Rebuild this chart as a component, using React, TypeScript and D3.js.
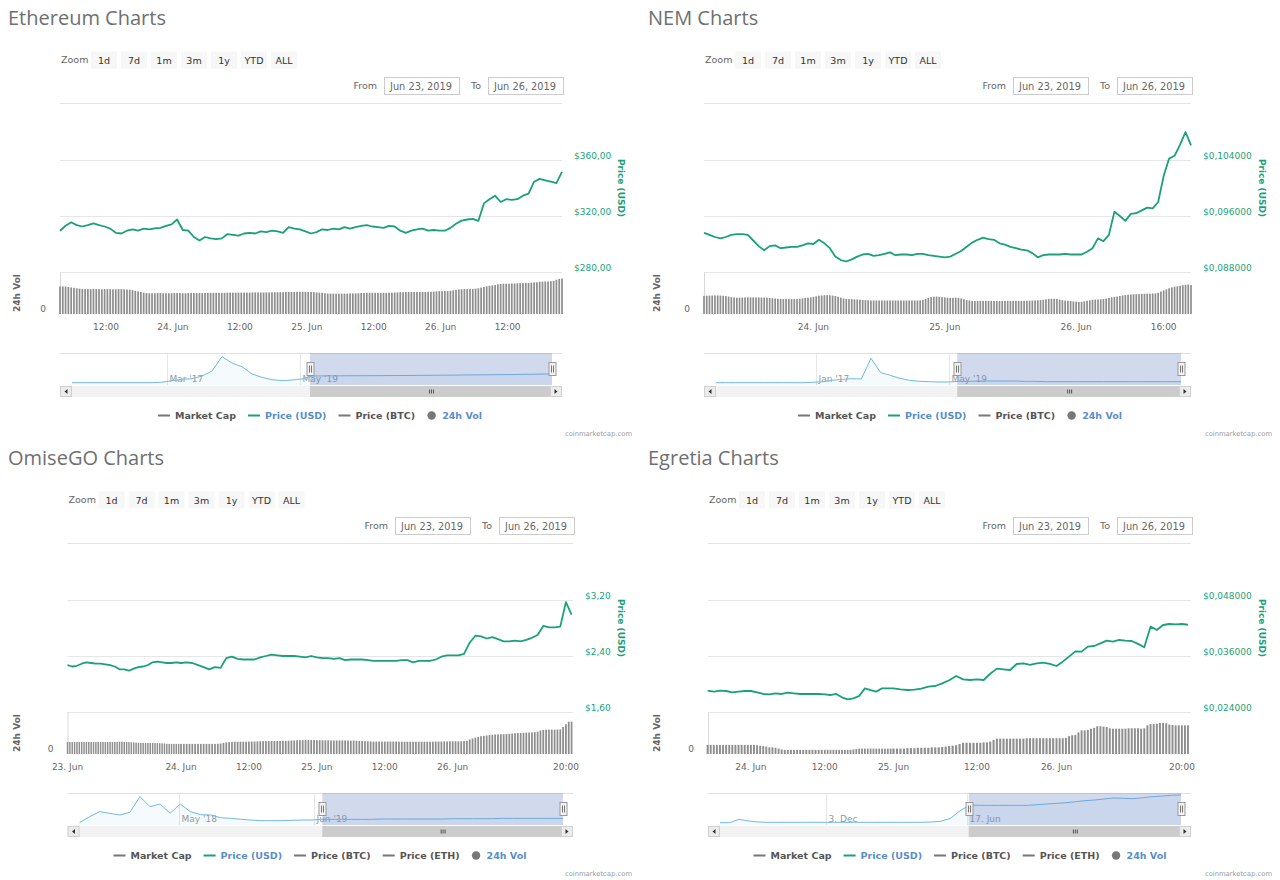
import React, { useEffect, useRef } from 'react';
import * as d3 from 'd3';

const t = (day: number, hour: number, min = 0) => new Date(Date.UTC(2019, 5, day, hour, min));
const HOUR = 3600 * 1000;
const HALF_HOUR = 1800 * 1000;

// ---------- Ethereum ----------
const ethPrice = [
  309.5, 313, 315.5, 313.5, 312.5, 313.5, 314.8, 313.5, 312.5, 311,
  308, 307.5, 309.5, 310.5, 309.5, 311, 310.5, 311.2, 311.5, 313,
  314, 317.5, 310, 309.5, 305, 302.5, 305, 304, 303.5, 304,
  307, 306.5, 306, 307.5, 308, 307.5, 309, 308.5, 309.5, 309,
  308, 312, 311, 310.5, 309, 307.5, 308.5, 310.5, 310, 311,
  310.5, 312, 311, 312, 313, 313.5, 312.5, 312, 311.5, 313,
  312.5, 309.5, 308, 309.5, 310.5, 311, 309.5, 310, 309.5, 309.5,
  311.5, 314.5, 316.7, 317.5, 318, 316.5, 329, 332, 334.5, 330,
  332, 331.5, 332, 334.5, 336, 344.5, 346.5, 345.5, 344.5, 343.5,
  351.5,
];
const ethVolume = [
  13.3, 13.3, 13.2, 13.0, 12.8, 12.6, 12.4,
  12.2, 12.1, 12.0, 12.0, 12.0, 12.1, 12.0, 12.0, 11.9, 12.0, 12.0, 12.0, 11.9, 11.9, 12.0, 12.0, 11.9, 11.8, 11.7,
  11.5, 11.2, 10.9, 10.6, 10.3,
  10.1, 10.0, 10.0, 10.0, 10.1, 10.1, 10.0, 10.0, 10.0, 10.0, 10.1, 10.1, 10.1, 10.0, 10.0, 10.1, 10.1, 10.1, 10.1, 10.1,
  10.1, 10.1, 10.2, 10.2, 10.2, 10.2, 10.2, 10.2, 10.2, 10.3, 10.3, 10.3, 10.3, 10.3, 10.3, 10.3, 10.3, 10.3, 10.4, 10.4,
  10.4, 10.4, 10.4, 10.4, 10.4, 10.5, 10.5, 10.5, 10.5, 10.5,
  10.6, 10.6, 10.6, 10.6, 10.7, 10.7, 10.7, 10.7, 10.6, 10.6, 10.5, 10.4, 10.3, 10.2, 10.0, 9.9, 9.8,
  9.8, 9.8, 9.8, 9.8, 9.8, 9.8, 9.9, 9.9, 9.9, 10.0, 10.1, 10.1,
  10.2, 10.2, 10.2, 10.2, 10.2, 10.2, 10.2, 10.2, 10.3, 10.3, 10.4, 10.4, 10.5,
  10.5, 10.6, 10.6, 10.6, 10.6, 10.6, 10.6, 10.6, 10.6, 10.7, 10.7, 10.8, 10.9,
  11.0, 11.0, 11.1, 11.1, 11.2, 11.4, 11.6,
  11.8, 11.9, 12.0, 12.0, 12.1, 12.1, 12.2, 12.4, 12.7, 13.0,
  13.3, 13.6, 13.8, 14.0, 14.3,
  14.5, 14.6, 14.6, 14.6, 14.7, 14.7, 14.8,
  14.9, 14.9, 15.0, 15.0, 15.1, 15.2, 15.3,
  15.5, 15.6, 15.7, 15.7, 15.8, 16.0,
  16.5, 16.9, 17.1,
];
const ethNav = [
  15, 15, 15, 15, 15, 15, 15, 15, 15, 40, 118, 186, 220, 355, 610, 1340, 1010, 828, 456, 287,
  169, 118, 152, 203, 355, 360, 362, 365, 368, 370, 372, 375, 378, 380, 384, 388, 392, 396, 400, 405,
  410, 415, 420, 425, 430, 438, 445, 452, 460,
];
const ethPriceTicks = [280, 320, 360];
const ethXTicks: [Date, string][] = [
  [t(23, 12), '12:00'], [t(24, 0), '24. Jun'], [t(24, 12), '12:00'], [t(25, 0), '25. Jun'],
  [t(25, 12), '12:00'], [t(26, 0), '26. Jun'], [t(26, 12), '12:00'],
];
const ethNavTicks: [number, string][] = [[9.5, "Mar '17"], [22.8, "May '19"]];

// ---------- NEM ----------
const nemPrice = [
  0.0936, 0.0933, 0.0930, 0.0928, 0.0930, 0.0933, 0.0934, 0.0934, 0.0933, 0.0925,
  0.0917, 0.0911, 0.0917, 0.0918, 0.0914, 0.0915, 0.0916, 0.0916, 0.0918, 0.0921,
  0.0920, 0.0926, 0.0921, 0.0914, 0.0902, 0.0897, 0.0895, 0.0898, 0.0902, 0.0905,
  0.0906, 0.0903, 0.0904, 0.0906, 0.0908, 0.0904, 0.0905, 0.0905, 0.0904, 0.0906,
  0.0906, 0.0904, 0.0903, 0.0902, 0.0901, 0.0902, 0.0906, 0.0910, 0.0916, 0.0922,
  0.0926, 0.0929, 0.0927, 0.0926, 0.0921, 0.0919, 0.0916, 0.0914, 0.0912, 0.0911,
  0.0907, 0.0901, 0.0904, 0.0905, 0.0905, 0.0905, 0.0906, 0.0905, 0.0905, 0.0905,
  0.0909, 0.0914, 0.0928, 0.0924, 0.0933, 0.0966, 0.0960, 0.0953, 0.0963, 0.0964,
  0.0968, 0.0972, 0.0971, 0.0980, 0.1017, 0.1042, 0.1046, 0.1062, 0.1080, 0.1061,
];
const nemVolume = [
  13.1, 13.2, 13.3, 13.3, 13.4, 13.4, 13.3, 13.2, 13.0, 12.6,
  12.2, 11.9, 11.8, 11.8,
  11.9, 12.0, 12.0, 12.0, 12.0, 12.0, 12.0, 11.9, 11.9, 11.8, 11.6, 11.4, 11.2,
  11.0, 10.9, 10.8, 10.8, 10.8, 10.8, 10.8, 10.9, 11.0, 11.3, 11.6,
  11.8, 12.0, 12.4, 12.8, 13.2, 13.4, 13.6,
  13.6, 13.5, 13.3, 13.0, 12.5, 11.8, 11.2,
  10.9, 10.8, 10.7, 10.6, 10.5, 10.3, 10.1, 10.0,
  9.9, 9.8, 9.8, 9.8, 9.8, 9.8, 9.8, 9.8, 9.8, 9.8, 9.8, 9.8, 9.8, 9.8, 9.8, 9.8, 9.8, 9.8, 9.8, 9.9, 10.2, 10.8, 11.6,
  12.2, 12.5, 12.6, 12.4, 12.2, 12.0, 11.8,
  11.6, 11.7, 11.8, 11.6, 11.2, 10.6, 10.1, 9.8,
  9.5, 9.4, 9.4, 9.5, 9.5, 9.5, 9.5, 9.5, 9.4, 9.4, 9.4, 9.4, 9.5, 9.5, 9.5, 9.5, 9.5, 9.5, 9.5, 9.5,
  9.6, 9.6, 9.7, 9.8, 9.9, 10.0, 10.3, 10.6,
  10.9, 11.0, 11.0, 10.8, 10.4, 10.0,
  9.7, 9.6, 9.4, 9.1, 8.9, 8.7, 8.8, 9.2,
  9.6, 9.9, 10.2, 10.4, 10.5, 10.6, 10.8, 11.2, 11.6,
  12.0, 12.3, 12.6, 13.0,
  13.4, 13.7, 13.9, 14.1, 14.2, 14.3, 14.4, 14.5, 14.6, 14.7, 14.7, 14.8, 14.9, 15.3,
  16.2, 17.1, 17.8, 18.6, 19.2, 19.7, 20.0,
  20.4, 20.8, 21.1, 21.3, 21.0,
];
const nemNav = [
  0.023, 0.023, 0.023, 0.023, 0.023, 0.023, 0.023, 0.023, 0.023, 0.023,
  0.046, 0.092, 0.185, 0.254, 0.3, 0.277, 1.71, 0.72, 0.53, 0.32,
  0.185, 0.115, 0.092, 0.069, 0.069, 0.115, 0.115, 0.139, 0.139, 0.139,
  0.139, 0.139, 0.115, 0.115, 0.092, 0.092, 0.092, 0.092, 0.092, 0.092,
  0.092, 0.092, 0.092, 0.092, 0.092, 0.092, 0.092, 0.092, 0.092,
];
const nemPriceTicks = [0.088, 0.096, 0.104];
const nemXTicks: [Date, string][] = [
  [t(24, 0), '24. Jun'], [t(25, 0), '25. Jun'], [t(26, 0), '26. Jun'], [t(26, 16), '16:00'],
];
const nemNavTicks: [number, string][] = [[10.3, "Jan '17"], [24.1, "May '19"]];

// ---------- OmiseGO ----------
const omgPrice = [
  2.27, 2.25, 2.26, 2.29, 2.31, 2.30, 2.29, 2.29, 2.28, 2.27,
  2.25, 2.21, 2.21, 2.19, 2.22, 2.24, 2.25, 2.27, 2.31, 2.32,
  2.31, 2.30, 2.30, 2.31, 2.30, 2.31, 2.30, 2.27, 2.24, 2.21,
  2.24, 2.23, 2.37, 2.39, 2.36, 2.35, 2.35, 2.35, 2.38, 2.40,
  2.42, 2.41, 2.40, 2.40, 2.40, 2.39, 2.38, 2.40, 2.38, 2.37,
  2.37, 2.36, 2.37, 2.34, 2.35, 2.35, 2.35, 2.34, 2.33, 2.33,
  2.33, 2.33, 2.33, 2.34, 2.34, 2.31, 2.33, 2.33, 2.33, 2.35,
  2.39, 2.41, 2.41, 2.41, 2.43, 2.59, 2.69, 2.68, 2.65, 2.67,
  2.64, 2.61, 2.61, 2.62, 2.61, 2.63, 2.66, 2.70, 2.83, 2.81,
  2.81, 2.82, 3.17, 2.99,
];
const omgVolume = [
  87, 87, 87, 87, 87, 87, 87, 87, 87, 87, 87, 87, 87, 87, 87, 87, 87, 87, 87, 87,
  88, 88, 89, 89, 88, 87, 86, 85, 84,
  82, 81, 80, 80, 80, 80, 80, 80, 79, 79, 78, 77, 76,
  74, 73, 73, 73, 73, 73, 73, 73, 73, 73, 73, 73, 73, 73, 73, 73, 73, 73, 73, 74, 76, 80,
  84, 86, 88, 89, 89, 89, 89, 89, 90, 90, 90, 91, 92,
  93, 93, 94, 94, 94, 94, 94, 95, 95, 96, 97, 98, 99,
  100, 100, 101, 101, 101, 101, 100, 100, 99,
  99, 99, 98, 98, 98, 98, 98, 98, 98, 97, 97, 96, 95, 94, 93,
  92, 91, 90, 90, 90, 90, 90, 90, 90, 90, 90, 89, 89, 89, 89, 89, 89, 89, 89, 89, 89, 89, 89, 89, 90, 90, 90, 91,
  91, 92, 92, 92, 92, 92, 93, 95,
  105, 112, 118, 124, 129, 131,
  134, 137, 139, 141, 142, 143, 143, 144, 146,
  148, 150, 151, 152, 153, 154, 155, 156, 158, 162,
  170, 174, 175, 176, 176, 176, 177, 178,
  195, 215, 234, 234,
];
const omgNav = [
  0.31, 5.86, 10.5, 8.95, 7.41, 9.88, 24.4, 15.1, 17.6, 8.95,
  17.6, 10.5, 7.72, 7.41, 4.94, 4.32, 3.4, 2.78, 2.16, 2.16,
  2.16, 2.47, 2.78, 2.78, 3.4, 3.4, 3.4, 3.4, 3.4, 3.4,
  3.7, 3.7, 3.7, 3.7, 3.7, 3.7, 3.7, 4.0, 4.0, 4.0,
  4.0, 4.0, 4.3, 4.3, 4.3, 4.3, 4.3, 4.3, 4.3,
];
const omgPriceTicks = [1.6, 2.4, 3.2];
const omgXTicks: [Date, string][] = [
  [t(23, 0), '23. Jun'], [t(24, 0), '24. Jun'], [t(24, 12), '12:00'], [t(25, 0), '25. Jun'],
  [t(25, 12), '12:00'], [t(26, 0), '26. Jun'], [t(26, 20), '20:00'],
];
const omgNavTicks: [number, string][] = [[9.83, "May '18"], [23.3, "Jun '19"]];

// ---------- Egretia ----------
const egrPrice = [
  0.02857, 0.02836, 0.02857, 0.02850, 0.02821, 0.02836, 0.02850, 0.02850, 0.02821, 0.02786,
  0.02779, 0.02800, 0.02786, 0.02814, 0.02800, 0.02786, 0.02786, 0.02786, 0.02786, 0.02779,
  0.02764, 0.02786, 0.02714, 0.02671, 0.02693, 0.02743, 0.02907, 0.02871, 0.02836, 0.02907,
  0.02907, 0.02907, 0.02886, 0.02871, 0.02880, 0.02900, 0.02943, 0.02957, 0.03014, 0.03080,
  0.03171, 0.03100, 0.03086, 0.03100, 0.03086, 0.03220, 0.03330, 0.03314, 0.03300, 0.03429,
  0.03443, 0.03410, 0.03440, 0.03457, 0.03430, 0.03386, 0.03479, 0.03586, 0.03700, 0.03693,
  0.03800, 0.03814, 0.03871, 0.03929, 0.03907, 0.03943, 0.03930, 0.03921, 0.03860, 0.03786,
  0.04229, 0.04157, 0.04264, 0.04286, 0.04279, 0.04286, 0.04270,
];
const egrVolume = [
  2.2, 2.2, 2.2, 2.2, 2.2, 2.2, 2.2, 2.2, 2.2, 2.2, 2.2, 2.2, 2.2, 2.2, 2.2, 2.2, 2.1, 2.0, 1.9, 1.8,
  1.6, 1.6, 1.5, 1.3, 1.1,
  1.0, 1.0, 1.0, 1.0, 1.0, 1.0, 1.0, 1.0, 1.0, 1.0, 1.0, 1.0, 1.0, 1.0, 1.0, 1.0, 1.0, 1.0, 1.0, 1.0,
  1.0, 1.0, 1.0, 1.1, 1.2, 1.3, 1.3,
  1.3, 1.3, 1.3, 1.3, 1.3, 1.3, 1.3, 1.3, 1.3, 1.3, 1.3, 1.3, 1.3, 1.3, 1.4, 1.4, 1.4, 1.5, 1.5, 1.5, 1.5, 1.6,
  1.6, 1.6, 1.7, 1.8,
  1.9, 2.0, 2.1, 2.4,
  2.7, 2.7, 2.7, 2.7, 2.7, 2.7, 2.8, 2.8, 3.0,
  3.4, 3.7, 3.7, 3.7, 3.7, 3.7, 3.7, 3.7, 3.7, 3.7, 3.8, 3.8, 3.8, 3.8, 3.8, 3.8, 3.8, 3.8, 3.8, 3.8, 3.8, 3.8, 3.9,
  4.3, 4.5, 4.6,
  5.2, 5.7, 5.7, 5.8,
  6.1, 6.3,
  6.7, 6.7, 6.6, 6.5,
  6.2, 6.1, 6.1, 6.1, 6.1,
  6.1, 6.2, 6.2, 6.2, 6.2, 6.1, 6.2,
  6.9, 7.2, 7.2, 7.3,
  7.5, 7.5, 7.4,
  7.1, 7.0,
  6.9, 6.9, 6.9, 6.9, 6.9,
];
const egrNav = [
  0.00053, 0.00053, 0.0059, 0.0032, 0.0016, 0.0011, 0.0011, 0.0011, 0.0011, 0.0011,
  0.0011, 0.0011, 0.0011, 0.0011, 0.0011, 0.0011, 0.0011, 0.0011, 0.0011, 0.0011,
  0.0011, 0.0011, 0.0016, 0.0027, 0.0075, 0.0197, 0.0288, 0.0283, 0.0283, 0.0283,
  0.0283, 0.0283, 0.0283, 0.0293, 0.0304, 0.0315, 0.0325, 0.0341, 0.0357, 0.0368,
  0.0384, 0.04, 0.0395, 0.0389, 0.0405, 0.0421, 0.0432, 0.0443, 0.0448,
];
const egrPriceTicks = [0.024, 0.036, 0.048];
const egrXTicks: [Date, string][] = [
  [t(24, 0), '24. Jun'], [t(24, 12), '12:00'], [t(25, 0), '25. Jun'],
  [t(25, 12), '12:00'], [t(26, 0), '26. Jun'], [t(26, 20), '20:00'],
];
const egrNavTicks: [number, string][] = [[11.0, '3. Dec'], [25.7, '17. Jun']];

const ZOOM_BUTTONS = ['1d', '7d', '1m', '3m', '1y', 'YTD', 'ALL'];
const RANGE_DATES = ['Jun 23, 2019', 'Jun 26, 2019'];
const LEGEND_BTC = ['Market Cap', 'Price (USD)', 'Price (BTC)', '24h Vol'];
const LEGEND_ETH = ['Market Cap', 'Price (USD)', 'Price (BTC)', 'Price (ETH)', '24h Vol'];

const FONT = "'DejaVu Sans', Verdana, sans-serif";
const GREEN = '#1aa179';
const BLUE_TEXT = '#5a8ecb';

interface Panel {
  title: string;
  px: number;
  py: number;
  left: number;
  right: number;
  xDomain: Date[];
  xRange: number[];
  start: Date;
  price: number[];
  volume: number[];
  volMax: number;
  priceTicks: number[];
  decimals: number;
  xTicks: [Date, string][];
  nav: number[];
  navMax: number;
  navTicks: [number, string][];
  navSel: number;
  legend: string[];
}

const panels: Panel[] = [
  {
    title: 'Ethereum Charts', px: 0, py: 0, left: 60, right: 562,
    xDomain: [t(23, 3, 45), t(26, 21, 45)], xRange: [60, 562], start: t(23, 3, 45),
    price: ethPrice, volume: ethVolume, volMax: 20, priceTicks: ethPriceTicks, decimals: 2,
    xTicks: ethXTicks, nav: ethNav, navMax: 1420, navTicks: ethNavTicks, navSel: 23.8, legend: LEGEND_BTC,
  },
  {
    title: 'NEM Charts', px: 640, py: 0, left: 704, right: 1191,
    xDomain: [t(23, 4), t(26, 21)], xRange: [704, 1191], start: t(23, 4),
    price: nemPrice, volume: nemVolume, volMax: 30, priceTicks: nemPriceTicks, decimals: 6,
    xTicks: nemXTicks, nav: nemNav, navMax: 1.94, navTicks: nemNavTicks, navSel: 24.9, legend: LEGEND_BTC,
  },
  {
    title: 'OmiseGO Charts', px: 0, py: 440, left: 67.5, right: 573,
    xDomain: [t(23, 0), t(24, 0), t(26, 21, 15)], xRange: [67.5, 181, 573], start: t(23, 0),
    price: omgPrice, volume: omgVolume, volMax: 300, priceTicks: omgPriceTicks, decimals: 2,
    xTicks: omgXTicks, nav: omgNav, navMax: 25.9, navTicks: omgNavTicks, navSel: 24.1, legend: LEGEND_ETH,
  },
  {
    title: 'Egretia Charts', px: 640, py: 440, left: 708, right: 1191,
    xDomain: [t(23, 17), t(24, 0), t(24, 12), t(25, 0), t(25, 12), t(26, 0), t(26, 20), t(26, 21, 30)],
    xRange: [707.6, 750.9, 824.8, 893.5, 977, 1056.5, 1181.9, 1191], start: t(23, 17),
    price: egrPrice, volume: egrVolume, volMax: 10, priceTicks: egrPriceTicks, decimals: 6,
    xTicks: egrXTicks, nav: egrNav, navMax: 0.0448, navTicks: egrNavTicks, navSel: 25.9, legend: LEGEND_ETH,
  },
];

type G = d3.Selection<SVGGElement, unknown, null, undefined>;

function drawPanel(svg: d3.Selection<SVGSVGElement, unknown, null, undefined>, p: Panel) {
  const g: G = svg.append('g');
  const T = p.py;
  const addText = (
    parent: G, x: number, y: number, s: string, size: number, fill: string,
    anchor = 'start', weight = 'normal',
  ) =>
    parent.append('text').attr('x', x).attr('y', y).attr('font-family', FONT)
      .attr('font-size', size).attr('fill', fill).attr('text-anchor', anchor)
      .attr('font-weight', weight).text(s);

  // Title
  g.append('text').attr('x', p.px + 8).attr('y', T + 25)
    .attr('font-family', "'Open Sans', sans-serif").attr('font-size', 20)
    .attr('fill', '#6f6f6f').text(p.title);

  // Range selector buttons
  addText(g, p.left + 1, T + 63, 'Zoom', 9.5, '#666');
  ZOOM_BUTTONS.forEach((b, i) => {
    const bx = p.left + 31 + i * 30;
    g.append('rect').attr('x', bx).attr('y', T + 51.5).attr('width', 26).attr('height', 17).attr('fill', '#f7f7f7');
    addText(g, bx + 13, T + 63.5, b, 9.5, '#333', 'middle');
  });

  // From / To inputs
  const boxes = [p.right - 178, p.right - 74];
  ['From', 'To'].forEach((lab, i) => {
    addText(g, boxes[i] - 7, T + 89, lab, 9.5, '#666', 'end');
    g.append('rect').attr('x', boxes[i] + 0.5).attr('y', T + 77.5).attr('width', 75).attr('height', 17)
      .attr('fill', '#fff').attr('stroke', '#ccc');
    addText(g, boxes[i] + 6, T + 89.5, RANGE_DATES[i], 9.8, '#666');
  });
  g.append('line').attr('x1', p.left).attr('x2', p.right).attr('y1', T + 103.5).attr('y2', T + 103.5)
    .attr('stroke', '#e3e3e3');

  // Scales
  const x = d3.scaleUtc().domain(p.xDomain).range(p.xRange);
  const y = d3.scaleLinear().domain([p.priceTicks[0], p.priceTicks[2]]).range([T + 272, T + 160]);
  const vy = d3.scaleLinear().domain([0, p.volMax]).range([T + 314, T + 272.5]);

  // Price grid + labels
  const fmt = (v: number) => '$' + v.toFixed(p.decimals).replace('.', ',');
  let maxW = 0;
  p.priceTicks.forEach((v) => {
    const yy = Math.round(y(v)) + 0.5;
    g.append('line').attr('x1', p.left).attr('x2', p.right).attr('y1', yy).attr('y2', yy).attr('stroke', '#e6e6e6');
    const tx = addText(g, p.right + 12, yy - 2, fmt(v), 9, GREEN);
    maxW = Math.max(maxW, (tx.node() as SVGTextElement).getComputedTextLength());
  });
  const titleX = p.right + 12 + maxW + 7;
  g.append('text').attr('transform', `translate(${titleX},${T + 188}) rotate(90)`)
    .attr('font-family', FONT).attr('font-size', 9).attr('font-weight', 'bold')
    .attr('fill', GREEN).attr('text-anchor', 'middle').text('Price (USD)');

  // Volume pane
  g.append('line').attr('x1', p.left + 0.5).attr('x2', p.left + 0.5).attr('y1', T + 272).attr('y2', T + 314)
    .attr('stroke', '#d9d9d9');
  g.append('text').attr('transform', `translate(${p.px + 20},${T + 293}) rotate(-90)`)
    .attr('font-family', FONT).attr('font-size', 9).attr('font-weight', 'bold')
    .attr('fill', '#666').attr('text-anchor', 'middle').text('24h Vol');
  addText(g, p.left - 14, T + 312, '0', 9, '#666', 'end');

  const volDates = p.volume.map((_, i) => new Date(p.start.getTime() + i * HALF_HOUR));
  g.append('g').selectAll('rect').data(p.volume).join('rect')
    .attr('x', (_, i) => {
      const w = (x(new Date(volDates[i].getTime() + HALF_HOUR)) - x(volDates[i])) * 0.62;
      return x(volDates[i]) - w / 2;
    })
    .attr('width', (_, i) => Math.max(1, (x(new Date(volDates[i].getTime() + HALF_HOUR)) - x(volDates[i])) * 0.62))
    .attr('y', (d) => vy(d))
    .attr('height', (d) => vy(0) - vy(d))
    .attr('fill', '#8e8e8e');

  // Price line
  const pts: [Date, number][] = p.price.map((v, i) => [new Date(p.start.getTime() + i * HOUR), v]);
  const line = d3.line<[Date, number]>().x((d) => x(d[0])).y((d) => y(d[1])).curve(d3.curveLinear);
  g.append('path').datum(pts).attr('d', line).attr('fill', 'none').attr('stroke', GREEN)
    .attr('stroke-width', 1.8).attr('stroke-linejoin', 'round');

  // X axis labels
  p.xTicks.forEach(([d, lab]) => {
    addText(g, x(d), T + 330, lab, 9, '#666', 'middle');
  });

  // Navigator
  const navTop = T + 353;
  const navBottom = T + 385;
  const nx = d3.scaleLinear().domain([0, p.nav.length - 1]).range([p.left + 12, p.right - 10]);
  const ny = d3.scaleLinear().domain([0, p.navMax]).range([T + 383, T + 355]);
  g.append('line').attr('x1', p.left).attr('x2', p.right).attr('y1', navTop + 0.5).attr('y2', navTop + 0.5)
    .attr('stroke', '#e0e0e0');
  p.navTicks.forEach(([idx, lab]) => {
    const xx = Math.round(nx(idx)) + 0.5;
    g.append('line').attr('x1', xx).attr('x2', xx).attr('y1', navTop).attr('y2', navBottom).attr('stroke', '#e6e6e6');
    addText(g, xx + 2, T + 382, lab, 9, '#999');
  });
  const area = d3.area<number>().x((_, i) => nx(i)).y0(navBottom).y1((d) => ny(d));
  const navLine = d3.line<number>().x((_, i) => nx(i)).y((d) => ny(d));
  g.append('path').datum(p.nav).attr('d', area).attr('fill', 'rgba(110,180,230,0.07)');
  g.append('path').datum(p.nav).attr('d', navLine).attr('fill', 'none').attr('stroke', '#72b8e6').attr('stroke-width', 1);

  const sx0 = nx(p.navSel);
  const sx1 = nx(p.nav.length - 1);
  g.append('rect').attr('x', sx0).attr('y', navTop).attr('width', sx1 - sx0).attr('height', navBottom - navTop)
    .attr('fill', 'rgba(102,133,194,0.3)');

  [sx0, sx1].forEach((hx) => {
    const xx = Math.round(hx) + 0.5;
    g.append('rect').attr('x', xx - 3.5).attr('y', T + 362.5).attr('width', 7).attr('height', 13)
      .attr('fill', '#f2f2f2').attr('stroke', '#999');
    [-1, 1].forEach((o) => {
      g.append('line').attr('x1', xx + o).attr('x2', xx + o).attr('y1', T + 365.5).attr('y2', T + 372.5)
        .attr('stroke', '#555').attr('stroke-width', 0.8);
    });
  });

  // Scrollbar
  const sbY = T + 386;
  g.append('rect').attr('x', p.left).attr('y', sbY).attr('width', p.right - p.left).attr('height', 11).attr('fill', '#f2f2f2');
  g.append('rect').attr('x', sx0).attr('y', sbY).attr('width', sx1 - sx0).attr('height', 11).attr('fill', '#cccccc');
  const gripX = (sx0 + sx1) / 2;
  [-2, 0, 2].forEach((o) => {
    g.append('line').attr('x1', gripX + o + 0.5).attr('x2', gripX + o + 0.5).attr('y1', sbY + 3.5).attr('y2', sbY + 7.5)
      .attr('stroke', '#333').attr('stroke-width', 0.8);
  });
  [p.left, p.right - 12].forEach((bx, i) => {
    g.append('rect').attr('x', bx + 0.5).attr('y', sbY + 0.5).attr('width', 11).attr('height', 10)
      .attr('fill', '#ebebeb').attr('stroke', '#d0d0d0');
    const cx = bx + 6;
    const cy = sbY + 5.5;
    const path = i === 0
      ? `M${cx + 1.5},${cy - 2.5} L${cx - 1.5},${cy} L${cx + 1.5},${cy + 2.5} Z`
      : `M${cx - 1.5},${cy - 2.5} L${cx + 1.5},${cy} L${cx - 1.5},${cy + 2.5} Z`;
    g.append('path').attr('d', path).attr('fill', '#333');
  });

  // Legend
  const lg: G = g.append('g');
  let lx = 0;
  p.legend.forEach((lab) => {
    const active = lab === 'Price (USD)' || lab === '24h Vol';
    const isVol = lab === '24h Vol';
    if (isVol) {
      lg.append('circle').attr('cx', lx + 4.5).attr('cy', -3.5).attr('r', 4.2).attr('fill', '#777');
    } else {
      lg.append('line').attr('x1', lx).attr('x2', lx + 12).attr('y1', -3.5).attr('y2', -3.5)
        .attr('stroke', lab === 'Price (USD)' ? GREEN : '#777').attr('stroke-width', 2);
    }
    const tx = addText(lg, lx + (isVol ? 15 : 17), 0, lab, 9.5, active ? BLUE_TEXT : '#555', 'start', 'bold');
    const w = (tx.node() as SVGTextElement).getComputedTextLength();
    lx += (isVol ? 15 : 17) + w + 12;
  });
  const total = lx - 12;
  lg.attr('transform', `translate(${p.px + 320 - total / 2},${T + 419})`);

  // Credits
  addText(g, p.px + 632, T + 436, 'coinmarketcap.com', 6.8, '#999', 'end');
}

export default function App() {
  const ref = useRef<SVGSVGElement | null>(null);

  useEffect(() => {
    if (!ref.current) return;
    const svg = d3.select(ref.current);
    svg.selectAll('*').remove();
    svg.append('rect').attr('width', 1280).attr('height', 880).attr('fill', '#fff');
    panels.forEach((p) => drawPanel(svg, p));
  }, []);

  return (
    <svg
      ref={ref}
      width={1280}
      height={880}
      style={{ position: 'absolute', left: 0, top: 0, display: 'block' }}
    />
  );
}
